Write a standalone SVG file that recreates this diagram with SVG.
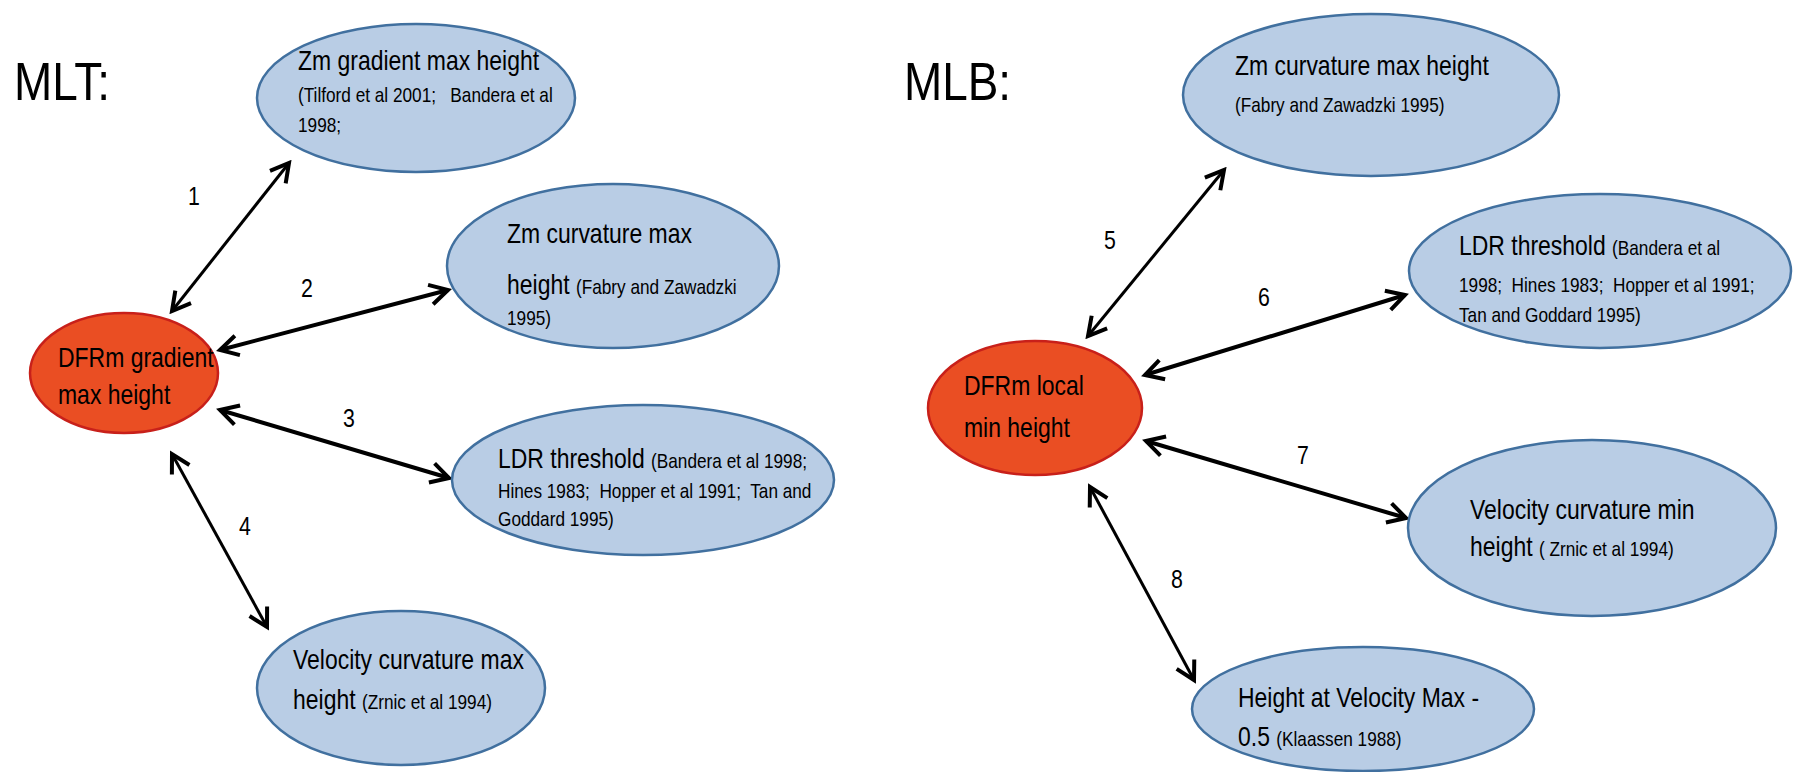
<svg xmlns="http://www.w3.org/2000/svg" width="1818" height="772" viewBox="0 0 1818 772">
<defs>
<style>
.bg{fill:#ffffff}
.blue{fill:#b9cde5;stroke:#41709f;stroke-width:2.5}
.red{fill:#ea4e23;stroke:#c8201a;stroke-width:2.5}
text{font-family:"Liberation Sans",Arial,sans-serif;fill:#000;white-space:pre}
.title{font-size:54px}
.main{font-size:28px}
.sub{font-size:21px}
.num{font-size:26px;text-anchor:middle}
.arr{stroke:#000;fill:none;marker-start:url(#ah);marker-end:url(#ah)}
.thin{stroke-width:3}
.thick{stroke-width:4}
</style>
<marker id="ah" markerUnits="userSpaceOnUse" viewBox="-24 -14 28 28" refX="0" refY="0" markerWidth="28" markerHeight="28" orient="auto-start-reverse">
<path d="M-18,-10 L0,0 L-18,10" fill="none" stroke="#000" stroke-width="4" stroke-linejoin="miter"/>
</marker>
</defs>
<rect class="bg" x="0" y="0" width="1818" height="772"/>
<text class="title" transform="translate(14 0) scale(0.85 1)" y="100">MLT:</text>
<text class="title" transform="translate(904 0) scale(0.85 1)" y="100">MLB:</text>
<g id="connectors">
<line class="arr thin" x1="172" y1="311" x2="289" y2="163"/>
<line class="arr thick" x1="220" y1="350" x2="448" y2="290"/>
<line class="arr thick" x1="220" y1="410" x2="449" y2="478"/>
<line class="arr thin" x1="172" y1="454" x2="267" y2="627"/>
<line class="arr thin" x1="1088" y1="336" x2="1224" y2="170"/>
<line class="arr thick" x1="1145" y1="375" x2="1405" y2="295"/>
<line class="arr thick" x1="1146" y1="441" x2="1406" y2="518"/>
<line class="arr thin" x1="1090" y1="487" x2="1194" y2="680"/>
<text class="num" transform="translate(194 0) scale(0.82 1)" y="205">1</text>
<text class="num" transform="translate(307 0) scale(0.82 1)" y="297">2</text>
<text class="num" transform="translate(349 0) scale(0.82 1)" y="427">3</text>
<text class="num" transform="translate(245 0) scale(0.82 1)" y="535">4</text>
<text class="num" transform="translate(1110 0) scale(0.82 1)" y="249">5</text>
<text class="num" transform="translate(1264 0) scale(0.82 1)" y="306">6</text>
<text class="num" transform="translate(1303 0) scale(0.82 1)" y="464">7</text>
<text class="num" transform="translate(1177 0) scale(0.82 1)" y="588">8</text>
</g>
<g id="n-zm-grad">
<ellipse class="blue" cx="416" cy="98" rx="159" ry="74"/>
<text class="main" transform="translate(298 0) scale(0.82 1)" y="70">Zm gradient max height</text>
<text class="sub" transform="translate(298 0) scale(0.82 1)" y="102">(Tilford et al 2001;   Bandera et al</text>
<text class="sub" transform="translate(298 0) scale(0.82 1)" y="132">1998;</text>
</g>
<g id="n-zm-curv-l">
<ellipse class="blue" cx="613" cy="266" rx="166" ry="82"/>
<text class="main" transform="translate(507 0) scale(0.82 1)" y="243">Zm curvature max</text>
<text transform="translate(507 0) scale(0.82 1)" y="294"><tspan class="main">height </tspan><tspan class="sub">(Fabry and Zawadzki</tspan></text>
<text class="sub" transform="translate(507 0) scale(0.82 1)" y="325">1995)</text>
</g>
<g id="n-dfrm-grad">
<ellipse class="red" cx="124" cy="373" rx="94" ry="60"/>
<text class="main" transform="translate(58 0) scale(0.82 1)" y="367">DFRm gradient</text>
<text class="main" transform="translate(58 0) scale(0.82 1)" y="404">max height</text>
</g>
<g id="n-ldr-l">
<ellipse class="blue" cx="643" cy="480" rx="191" ry="75"/>
<text transform="translate(498 0) scale(0.82 1)" y="468"><tspan class="main">LDR threshold </tspan><tspan class="sub">(Bandera et al 1998;</tspan></text>
<text class="sub" transform="translate(498 0) scale(0.82 1)" y="498">Hines 1983;  Hopper et al 1991;  Tan and</text>
<text class="sub" transform="translate(498 0) scale(0.82 1)" y="526">Goddard 1995)</text>
</g>
<g id="n-vel-max">
<ellipse class="blue" cx="401" cy="688" rx="144" ry="77"/>
<text class="main" transform="translate(293 0) scale(0.82 1)" y="669">Velocity curvature max</text>
<text transform="translate(293 0) scale(0.82 1)" y="709"><tspan class="main">height </tspan><tspan class="sub">(Zrnic et al 1994)</tspan></text>
</g>
<g id="n-zm-curv-r">
<ellipse class="blue" cx="1371" cy="95" rx="188" ry="81"/>
<text class="main" transform="translate(1235 0) scale(0.82 1)" y="75">Zm curvature max height</text>
<text class="sub" transform="translate(1235 0) scale(0.82 1)" y="112">(Fabry and Zawadzki 1995)</text>
</g>
<g id="n-ldr-r">
<ellipse class="blue" cx="1600" cy="271" rx="191" ry="77"/>
<text transform="translate(1459 0) scale(0.82 1)" y="255"><tspan class="main">LDR threshold </tspan><tspan class="sub">(Bandera et al</tspan></text>
<text class="sub" transform="translate(1459 0) scale(0.82 1)" y="292">1998;  Hines 1983;  Hopper et al 1991;</text>
<text class="sub" transform="translate(1459 0) scale(0.82 1)" y="322">Tan and Goddard 1995)</text>
</g>
<g id="n-dfrm-local">
<ellipse class="red" cx="1035" cy="408" rx="107" ry="67"/>
<text class="main" transform="translate(964 0) scale(0.82 1)" y="395">DFRm local</text>
<text class="main" transform="translate(964 0) scale(0.82 1)" y="437">min height</text>
</g>
<g id="n-vel-min">
<ellipse class="blue" cx="1592" cy="528" rx="184" ry="88"/>
<text class="main" transform="translate(1470 0) scale(0.82 1)" y="519">Velocity curvature min</text>
<text transform="translate(1470 0) scale(0.82 1)" y="556"><tspan class="main">height </tspan><tspan class="sub">( Zrnic et al 1994)</tspan></text>
</g>
<g id="n-height-vmax">
<ellipse class="blue" cx="1363" cy="709" rx="171" ry="62"/>
<text class="main" transform="translate(1238 0) scale(0.82 1)" y="707">Height at Velocity Max -</text>
<text transform="translate(1238 0) scale(0.82 1)" y="746"><tspan class="main">0.5 </tspan><tspan class="sub">(Klaassen 1988)</tspan></text>
</g>
</svg>
